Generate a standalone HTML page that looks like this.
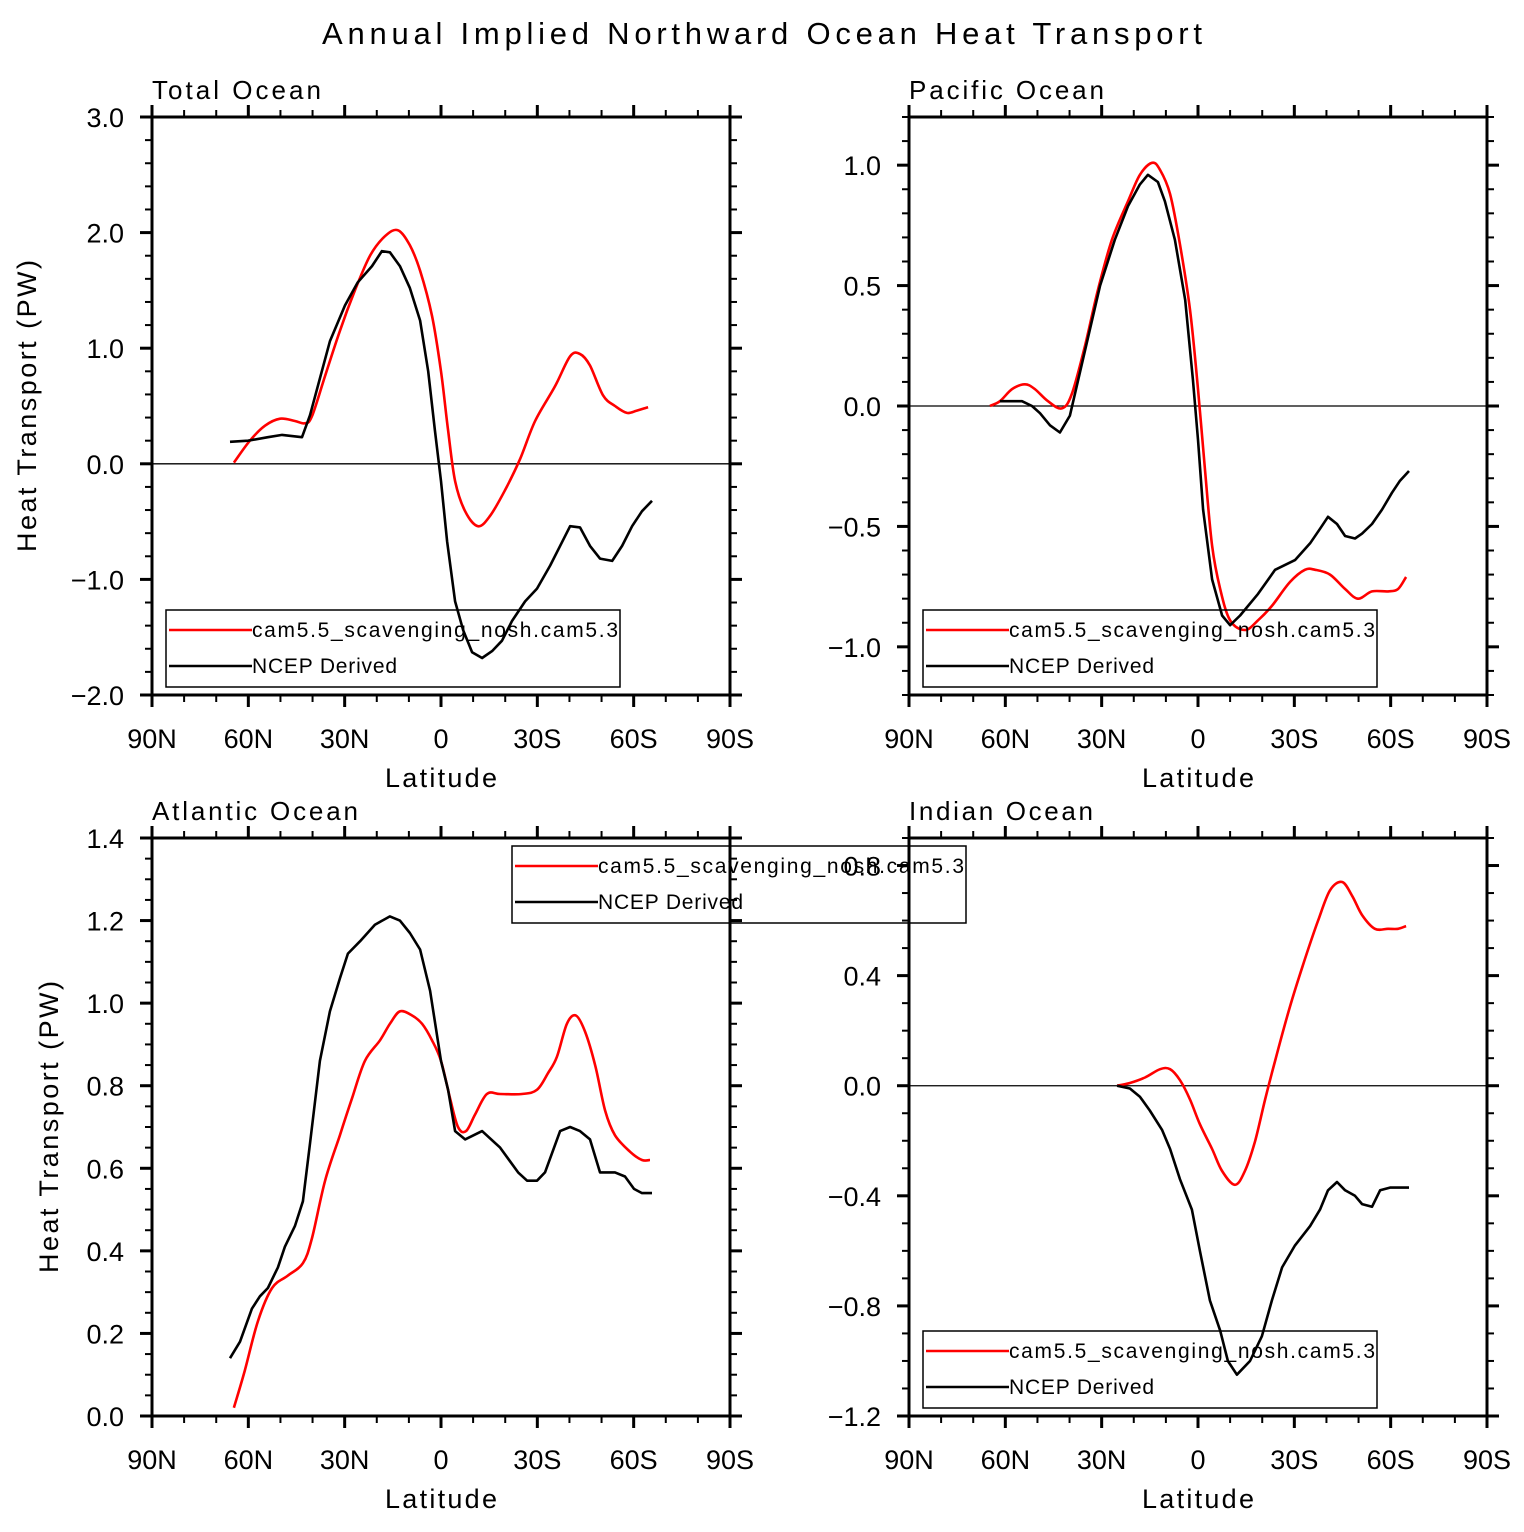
<!DOCTYPE html>
<html><head><meta charset="utf-8"><style>
body{margin:0;background:#fff}
svg text{font-family:"Liberation Sans",sans-serif;fill:#000}
</style></head><body>
<svg id="c" width="1524" height="1527" xmlns="http://www.w3.org/2000/svg">
<text x="762" y="44" font-size="31" text-anchor="middle" textLength="880" lengthAdjust="spacing">Annual Implied Northward Ocean Heat Transport</text>
</svg>
<script>
// Total Ocean
const totRedLat=[64.5,59.5,54.8,50.1,45.5,42.4,40.2,36.1,31.5,26.8,22.1,17.4,13.4,9.7,6.5,2.8,0,-2.2,-4.4,-7.5,-11.5,-15.3,-19.9,-24.6,-29.3,-35.5,-40.2,-43.3,-46.4,-50.5,-54.2,-57.9,-61,-64.5];
const totRedVal=[0.01,0.2,0.33,0.39,0.37,0.35,0.41,0.76,1.15,1.5,1.8,1.97,2.02,1.89,1.67,1.28,0.8,0.29,-0.15,-0.41,-0.54,-0.45,-0.23,0.04,0.37,0.67,0.93,0.95,0.85,0.59,0.5,0.44,0.46,0.49];
const totBlkLat=[65.7,60.1,53.9,49.5,43.3,40.8,34.6,29.9,25.9,21.5,18.4,15.9,12.8,9.7,6.5,4,1.9,0,-1.9,-4.4,-6.9,-9.7,-12.8,-15.9,-19,-22.1,-26.2,-29.9,-34,-37.1,-40.2,-43.3,-46.4,-49.5,-53.3,-56.4,-59.5,-62.6,-65.7];
const totBlkVal=[0.19,0.2,0.23,0.25,0.23,0.42,1.06,1.37,1.57,1.71,1.84,1.83,1.71,1.52,1.24,0.8,0.29,-0.15,-0.67,-1.19,-1.44,-1.63,-1.68,-1.62,-1.53,-1.36,-1.19,-1.08,-0.88,-0.71,-0.54,-0.55,-0.71,-0.82,-0.84,-0.71,-0.54,-0.41,-0.32];
const totTicks=["3.0","2.0","1.0","0.0","−1.0","−2.0"];
// Pacific Ocean
const pacRedLat=[64.8,61.7,57.9,53.9,50.8,46.7,42.4,39.3,35.2,31.2,26.8,21.8,18.1,14.3,11.8,8.7,5.6,2.5,0,-2.2,-4.4,-6.9,-10,-14.6,-18.7,-23,-28.7,-33.3,-36.5,-41.1,-45.8,-49.8,-54.2,-59.2,-62.3,-64.8];
const pacRedVal=[0,0.02,0.07,0.09,0.07,0.02,-0.01,0.05,0.25,0.48,0.69,0.85,0.96,1.01,0.98,0.88,0.67,0.4,0.07,-0.27,-0.58,-0.76,-0.89,-0.93,-0.89,-0.83,-0.73,-0.68,-0.68,-0.7,-0.76,-0.8,-0.77,-0.77,-0.76,-0.71];
const pacBlkLat=[61.7,54.8,51.7,49.2,46.1,43,39.9,35.2,30.5,25.9,21.8,18.1,15.6,12.5,10.3,7.2,4,1.6,0,-1.6,-4.4,-7.5,-10,-13.1,-18.7,-24,-30.2,-34.9,-38,-40.5,-43.3,-45.8,-48.9,-51.1,-54.2,-57.3,-60.4,-62.9,-65.7];
const pacBlkVal=[0.02,0.02,0,-0.03,-0.08,-0.11,-0.04,0.23,0.5,0.69,0.83,0.92,0.96,0.93,0.85,0.69,0.44,0.11,-0.14,-0.43,-0.72,-0.87,-0.91,-0.87,-0.78,-0.68,-0.64,-0.57,-0.51,-0.46,-0.49,-0.54,-0.55,-0.53,-0.49,-0.43,-0.36,-0.31,-0.27];
const pacTicks=["1.0","0.5","0.0","−0.5","−1.0"];
// Atlantic Ocean
const atlRedLat=[64.5,61.1,57,52.6,47.7,43,40.2,36.1,31.5,27.7,23.7,19,15.9,12.8,9,5.9,2.8,0,-2.8,-5.3,-7.8,-10.6,-14.3,-18.4,-25.2,-29.9,-33.3,-36.1,-39.2,-42,-44.9,-48,-51.1,-54.2,-58.9,-62.6,-65.1];
const atlRedVal=[0.02,0.11,0.23,0.31,0.34,0.37,0.43,0.57,0.68,0.77,0.86,0.91,0.95,0.98,0.97,0.95,0.91,0.86,0.77,0.7,0.69,0.73,0.78,0.78,0.78,0.79,0.83,0.87,0.95,0.97,0.93,0.85,0.74,0.68,0.64,0.62,0.62];
const atlBlkLat=[65.7,62.6,58.9,56.4,53.9,50.8,48.6,45.5,43,40.8,37.7,34.6,31.5,29,25.2,20.6,15.9,12.8,9.7,6.5,3.4,0,-2.2,-4.4,-7.5,-12.8,-18.4,-24,-26.8,-29.9,-32.4,-37.1,-40.2,-43.3,-46.4,-49.5,-54.2,-57.3,-60.1,-62.6,-65.7];
const atlBlkVal=[0.14,0.18,0.26,0.29,0.31,0.36,0.41,0.46,0.52,0.66,0.86,0.98,1.06,1.12,1.15,1.19,1.21,1.2,1.17,1.13,1.03,0.86,0.79,0.69,0.67,0.69,0.65,0.59,0.57,0.57,0.59,0.69,0.7,0.69,0.67,0.59,0.59,0.58,0.55,0.54,0.54];
const atlTicks=["1.4","1.2","1.0","0.8","0.6","0.4","0.2","0.0"];
// Indian Ocean
const indRedLat=[25.2,21.2,16.5,11.8,8.7,5.6,2.5,-0.6,-4.4,-7.5,-11.5,-14.6,-17.8,-20.9,-24,-28.7,-33.3,-37.4,-41.1,-44.9,-48,-51.1,-55.1,-59.2,-62.3,-64.8];
const indRedVal=[0,0.01,0.03,0.06,0.06,0.02,-0.05,-0.14,-0.23,-0.31,-0.36,-0.31,-0.2,-0.05,0.09,0.29,0.46,0.6,0.71,0.74,0.69,0.62,0.57,0.57,0.57,0.58];
const indBlkLat=[25.2,21.2,18.1,15,11.2,8.7,5.6,1.9,-0.6,-3.7,-6.9,-9.3,-12.1,-16.2,-19.9,-23,-26.2,-30.2,-34.9,-38,-40.5,-43.3,-45.8,-48.9,-51.1,-54.2,-56.7,-59.8,-65.7];
const indBlkVal=[0,-0.01,-0.04,-0.09,-0.16,-0.23,-0.34,-0.45,-0.6,-0.78,-0.89,-1,-1.05,-1,-0.91,-0.78,-0.66,-0.58,-0.51,-0.45,-0.38,-0.35,-0.38,-0.4,-0.43,-0.44,-0.38,-0.37,-0.37];
const indTicks=["0.8","0.4","0.0","−0.4","−0.8","−1.2"];
const xTicks=["90N","60N","30N","0","30S","60S","90S"];

const NS="http://www.w3.org/2000/svg";
const svg=document.getElementById('c');
function mk(tag,attrs,parent){const e=document.createElementNS(NS,tag);for(const k in attrs)e.setAttribute(k,attrs[k]);(parent||svg).appendChild(e);return e;}
function smooth(pts){
  let d='M'+pts[0][0].toFixed(1)+','+pts[0][1].toFixed(1);
  for(let i=0;i<pts.length-1;i++){
    const p0=pts[Math.max(0,i-1)],p1=pts[i],p2=pts[i+1],p3=pts[Math.min(pts.length-1,i+2)];
    const c1=[p1[0]+(p2[0]-p0[0])/6,p1[1]+(p2[1]-p0[1])/6];
    const c2=[p2[0]-(p3[0]-p1[0])/6,p2[1]-(p3[1]-p1[1])/6];
    d+=' C'+c1.map(v=>v.toFixed(1)).join(',')+' '+c2.map(v=>v.toFixed(1)).join(',')+' '+p2[0].toFixed(1)+','+p2[1].toFixed(1);
  }
  return d;
}

function panel(o){
  const g=mk('g',{});
  
  
  const L=o.x0,R=o.x0+578,T=o.y0,B=o.y0+578;
  const xs=lat=>L+(90-lat)/180*578;
  const ys=v=>T+(o.ymax-v)/(o.ymax-o.ymin)*578;
  const zl=mk('line',{x1:L,x2:R,y1:ys(0),y2:ys(0),stroke:'#000','stroke-width':1.3},g);
  
  
  const series=[[o.rl,o.rv,'#f00','model-line',true],[o.bl,o.bv,'#000','ncep-line',false]];
  series.forEach(s=>{
    const pts=s[0].map((la,i)=>[xs(la),ys(s[1][i])]);
    const p=mk('path',{d:s[4]?smooth(pts):('M'+pts.map(q=>q[0].toFixed(1)+','+q[1].toFixed(1)).join(' L')),fill:'none',stroke:s[2],'stroke-width':2.6,'stroke-linejoin':'round'},g);
    
    
  });
  const fr=mk('rect',{x:L,y:T,width:578,height:578,fill:'none',stroke:'#000','stroke-width':3},g);
  
  
  for(let lat=90;lat>=-90;lat-=10){
    const maj=lat%30===0,len=maj?12:7,x=xs(lat);
    mk('line',{x1:x,x2:x,y1:B,y2:B+len,stroke:'#000','stroke-width':maj?3:2},g);
    mk('line',{x1:x,x2:x,y1:T,y2:T-len,stroke:'#000','stroke-width':maj?3:2},g);
  }
  xTicks.forEach((t,i)=>{
    const tx=mk('text',{x:xs(90-i*30),y:B+53,'font-size':27,'text-anchor':'middle'},g);
    tx.textContent=t;
    
    
  });
  const i0=Math.ceil(o.ymin/o.minor-1e-6),i1=Math.floor(o.ymax/o.minor+1e-6);
  for(let i=i0;i<=i1;i++){
    const v=i*o.minor;const y=ys(v);
    const r=v/o.major;const maj=Math.abs(r-Math.round(r))<1e-6;
    const len=maj?12:7;
    mk('line',{x1:L,x2:L-len,y1:y,y2:y,stroke:'#000','stroke-width':maj?3:2},g);
    mk('line',{x1:R,x2:R+len,y1:y,y2:y,stroke:'#000','stroke-width':maj?3:2},g);
  }
  o.ticks.forEach((t,i)=>{
    const v=o.labTop-i*o.major;
    const tx=mk('text',{x:L-28,y:ys(v)+10,'font-size':27,'text-anchor':'end'},g);
    tx.textContent=t;
    
    
  });
  const tt=mk('text',{x:L,y:T-18,'font-size':26,textLength:o.tl,lengthAdjust:'spacing'},g);
  tt.textContent=o.title;
  
  
  const xl=mk('text',{x:(L+R)/2,y:B+92,'font-size':27,'text-anchor':'middle',textLength:112,lengthAdjust:'spacing'},g);
  xl.textContent='Latitude';
  
  
  if(o.yt){
    const yl=mk('text',{x:0,y:0,'font-size':27,'text-anchor':'middle',transform:`translate(${o.yt[0]},${o.yt[1]}) rotate(-90)`,textLength:292,lengthAdjust:'spacing'},g);
    yl.textContent='Heat Transport (PW)';
    
    
  }
  const lg=mk('g',{},g);
  
  
  const lx=o.leg[0],ly=o.leg[1];
  mk('rect',{x:lx,y:ly,width:454,height:77,fill:'none',stroke:'#000','stroke-width':1.5},lg);
  mk('line',{x1:lx+3,x2:lx+86,y1:ly+20,y2:ly+20,stroke:'#f00','stroke-width':2.6},lg);
  mk('line',{x1:lx+3,x2:lx+86,y1:ly+56,y2:ly+56,stroke:'#000','stroke-width':2.6},lg);
  const a=mk('text',{x:lx+86,y:ly+27,'font-size':21,textLength:366,lengthAdjust:'spacing'},lg);a.textContent='cam5.5_scavenging_nosh.cam5.3';
  
  
  const b=mk('text',{x:lx+86,y:ly+63,'font-size':21,textLength:145,lengthAdjust:'spacing'},lg);b.textContent='NCEP Derived';
  
  
}
panel({name:'total-ocean-panel',title:'Total Ocean',tl:169,x0:152,y0:117,ymax:3,ymin:-2,labTop:3,major:1,minor:0.2,ticks:totTicks,rl:totRedLat,rv:totRedVal,bl:totBlkLat,bv:totBlkVal,yt:[36,406],leg:[166,610]});
panel({name:'pacific-ocean-panel',title:'Pacific Ocean',tl:195,x0:909,y0:117,ymax:1.2,ymin:-1.2,labTop:1.0,major:0.5,minor:0.1,ticks:pacTicks,rl:pacRedLat,rv:pacRedVal,bl:pacBlkLat,bv:pacBlkVal,yt:null,leg:[923,610]});
panel({name:'atlantic-ocean-panel',title:'Atlantic Ocean',tl:206,x0:152,y0:838,ymax:1.4,ymin:0,labTop:1.4,major:0.2,minor:0.05,ticks:atlTicks,rl:atlRedLat,rv:atlRedVal,bl:atlBlkLat,bv:atlBlkVal,yt:[58,1127],leg:[512,846]});
panel({name:'indian-ocean-panel',title:'Indian Ocean',tl:184,x0:909,y0:838,ymax:0.9,ymin:-1.2,labTop:0.8,major:0.4,minor:0.1,ticks:indTicks,rl:indRedLat,rv:indRedVal,bl:indBlkLat,bv:indBlkVal,yt:null,leg:[923,1331]});
</script>
</body></html>
